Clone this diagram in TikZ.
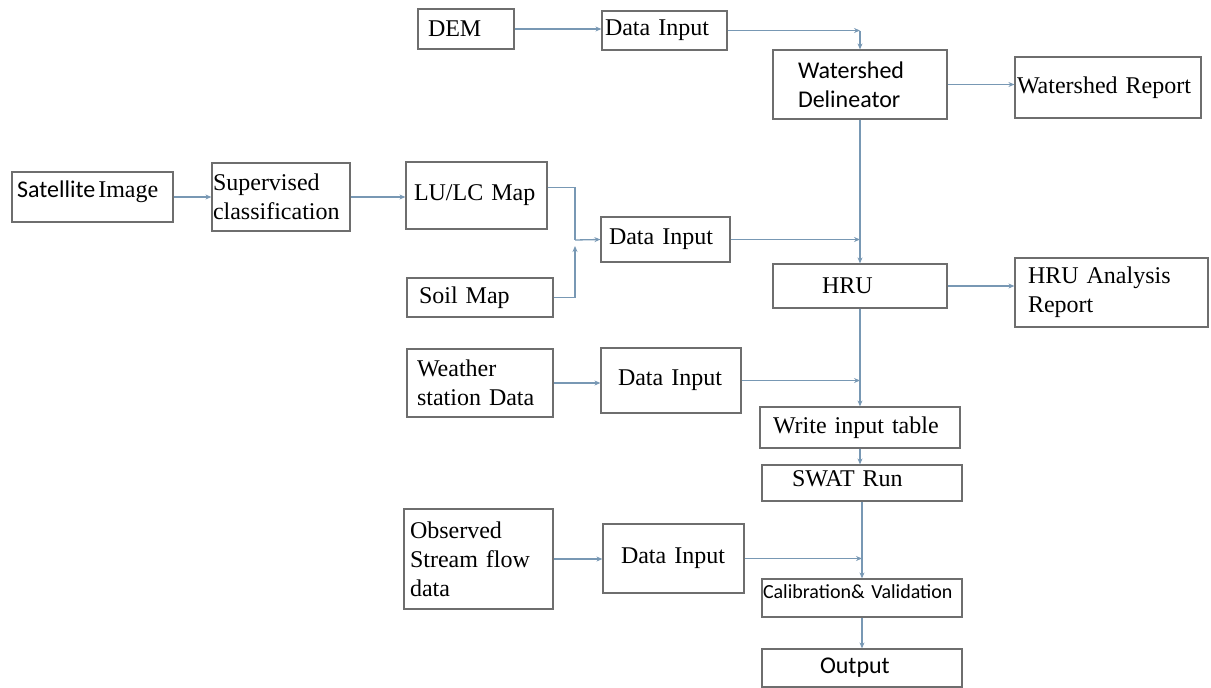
\documentclass[tikz,border=0pt]{standalone}
\usepackage{fontspec}
\setmainfont{Liberation Serif}
\newfontfamily\carl{Carlito}
\usetikzlibrary{arrows.meta}
\definecolor{boxgray}{RGB}{110,110,110}
\definecolor{flowblue}{RGB}{120,152,180}

\begin{document}
\begin{tikzpicture}[x=1pt, y=-1pt,
  box/.style={draw=boxgray, line width=1.2pt, align=left, inner ysep=0pt, font=\fontsize{24}{29}\selectfont},
  link/.style={draw=flowblue, line width=1.3pt},
  flow/.style={link, -{Stealth[length=6pt, width=5pt]}}]
  \useasboundingbox (0,0) rectangle (1211,688);

  \node[box, minimum height=40pt, text width=76pt, inner xsep=10pt] (dem) at (466,29) {DEM};
  \node[box, minimum height=39pt, text width=119pt, inner xsep=3pt] (di1) at (664.5,30.5) {Data Input};
  \node[box, minimum height=69pt, text width=124pt, inner xsep=25pt, font=\carl\fontsize{24}{29}\selectfont] (ws) at (860,84.5) {Watershed\\Delineator};
  \node[box, minimum height=61pt, text width=182pt, inner xsep=2pt] (wsr) at (1108,87.5) {Watershed Report};

  \node[box, minimum height=50pt, text width=151pt, inner xsep=5pt, text height=10pt, text depth=10pt] (sat) at (92.5,197) {{\carl Satellite}\hspace{3pt}Image};
  \node[box, minimum height=68pt, text width=136pt, inner xsep=1pt] (sup) at (281,197) {Supervised\\classification};
  \node[box, minimum height=67pt, text width=125pt, inner xsep=8pt] (lulc) at (476.5,195.5) {LU/LC Map};
  \node[box, minimum height=39pt, text width=122pt, inner xsep=12pt] (soil) at (480,297.5) {Soil Map};
  \node[box, minimum height=45pt, text width=113pt, inner xsep=8pt] (di2) at (665.5,239.5) {Data Input};
  \coordinate (j1) at (575,240);

  \node[box, minimum height=44pt, text width=76pt, inner xsep=49pt] (hru) at (860,286) {HRU};
  \node[box, minimum height=69pt, text width=167pt, inner xsep=13pt] (hrur) at (1111.5,292.5) {HRU Analysis\\Report};

  \node[box, minimum height=68pt, text width=126pt, inner xsep=10pt] (weather) at (480,383) {Weather\\station Data};
  \node[box, minimum height=65pt, text width=106pt, inner xsep=17pt] (di3) at (671,380.5) {Data Input};
  \node[box, minimum height=41pt, text width=174pt, inner xsep=13pt] (wit) at (860,427.5) {Write input table};
  \node[box, minimum height=36pt, text width=140pt, inner xsep=30pt, text height=11pt, text depth=5pt] (swat) at (862,483) {SWAT Run};

  \node[box, minimum height=100pt, text width=137pt, inner xsep=6pt] (obs) at (478.5,559) {Observed\\Stream flow\\data};
  \node[box, minimum height=69pt, text width=105pt, inner xsep=18pt] (di4) at (673.5,558.5) {Data Input};
  \node[box, minimum height=38pt, text width=198pt, inner xsep=1pt, text height=8pt, text depth=8pt, font=\carl\fontsize{20}{24}\selectfont] (cal) at (862,598) {Calibration\& Validation};
  \node[box, minimum height=38pt, text width=84pt, inner xsep=58pt, font=\carl\fontsize{24}{29}\selectfont] (out) at (862,668) {Output};

  \draw[flow] (dem.east) -- (dem.east -| di1.west);
  \coordinate (c1) at (ws.north |- di1.east);
  \draw[flow] (di1.east) -- (c1);
  \draw[flow] (c1) -- (ws.north);
  \draw[flow] (ws.east) -- (ws.east -| wsr.west);
  \draw[flow] (ws.south) -- (hru.north);

  \draw[flow] (sat.east) -- (sup.west);
  \draw[flow] (sup.east) -- (sup.east -| lulc.west);
  \draw[link] ([yshift=8pt]lulc.east) -| (j1);
  \draw[flow] (soil.east) -| ([yshift=-6pt]j1);
  \draw[flow] (j1) -- (di2.west);
  \draw[flow] (di2.east) -- (ws.south |- di2.east);

  \draw[flow] (hru.east) -- (hru.east -| hrur.west);
  \draw[flow] (weather.east) -- (weather.east -| di3.west);
  \draw[flow] (di3.east) -- (hru.south |- di3.east);
  \draw[flow] (hru.south) -- (wit.north);
  \draw[flow] (wit.south) -- (wit.south |- swat.north);

  \draw[flow] (obs.east) -- (obs.east -| di4.west);
  \draw[flow] (di4.east) -- (swat.south |- di4.east);
  \draw[flow] (swat.south) -- (cal.north);
  \draw[flow] (cal.south) -- (out.north);
\end{tikzpicture}
\end{document}
